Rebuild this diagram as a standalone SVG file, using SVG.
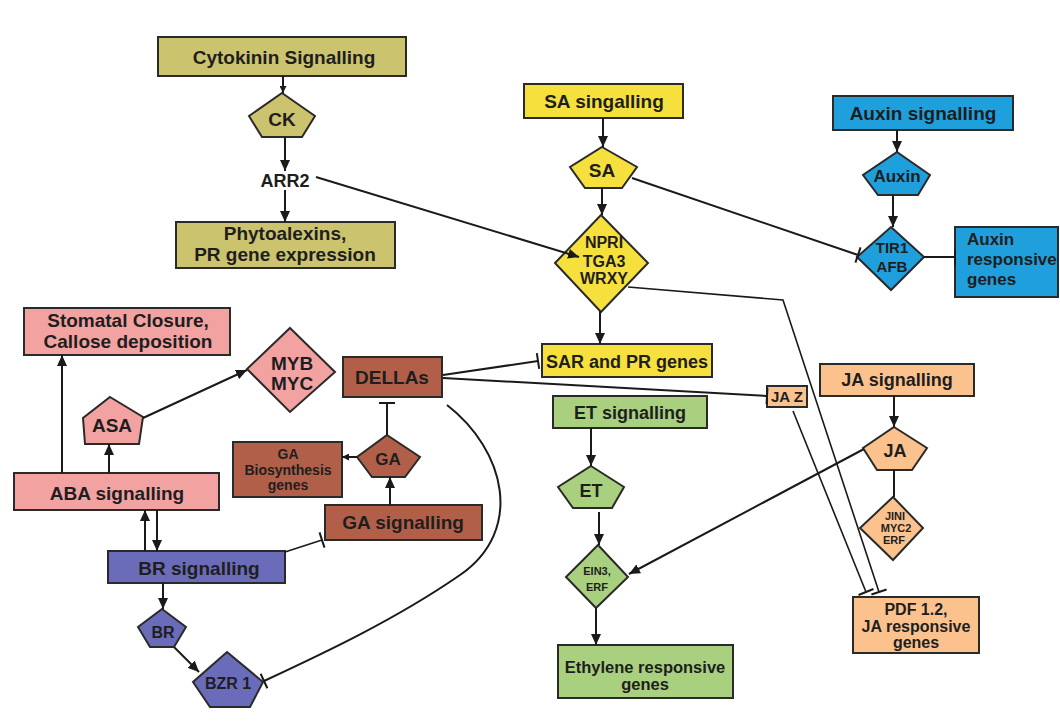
<svg xmlns="http://www.w3.org/2000/svg" width="1060" height="721" viewBox="0 0 1060 721">
<style>
.b{stroke:#2a2a2a;stroke-width:2}
.t{font-family:"Liberation Sans",Arial,sans-serif;font-weight:bold;fill:#1e1e1e;text-anchor:middle}
.c{stroke:#1a1a1a;stroke-width:2;fill:none}
.thin{stroke-width:1.6}
.ck{fill:#ccc36f}.sa{fill:#f6e03e}.aux{fill:#1f9fdb}.aba{fill:#f3a2a2}.ga{fill:#b25f4a}.br{fill:#6b6cb9}.et{fill:#a8d07f}.ja{fill:#fcc28e}
</style>
<defs>
<marker id="a" markerUnits="userSpaceOnUse" markerWidth="11" markerHeight="10" refX="11" refY="5" orient="auto"><path d="M0,0 L11,5 L0,10 z" fill="#1a1a1a"/></marker>
<marker id="s" markerUnits="userSpaceOnUse" markerWidth="7" markerHeight="7" refX="7" refY="3.5" orient="auto"><path d="M0,0 L7,3.5 L0,7 z" fill="#1a1a1a"/></marker>
<marker id="bar" markerUnits="userSpaceOnUse" markerWidth="4" markerHeight="18" refX="2" refY="9" orient="auto"><path d="M2,1 L2,17" stroke="#1a1a1a" stroke-width="2"/></marker>
</defs>
<rect width="1060" height="721" fill="#ffffff"/>
<g id="cytokinin-signalling"><rect class="b ck" x="158" y="37" width="248" height="39"/><text class="t" x="284" y="64" font-size="19">Cytokinin Signalling</text></g>
<g id="ck"><polygon class="b ck" points="282,93 315,116 302,137 262,137 249,116"/><text class="t" x="282" y="126" font-size="19">CK</text></g>
<g id="arr2"><text class="t" x="285" y="187" font-size="18">ARR2</text></g>
<g id="phytoalexins"><rect class="b ck" x="176" y="222" width="219" height="46"/><text class="t" x="285" y="240" font-size="19">Phytoalexins,</text><text class="t" x="285" y="261" font-size="19">PR gene expression</text></g>
<g id="sa-signalling"><rect class="b sa" x="524" y="84" width="159" height="34"/><text class="t" x="604" y="108" font-size="19">SA singalling</text></g>
<g id="sa"><polygon class="b sa" points="602,147 637,167 622,188 585,188 570,167"/><text class="t" x="602" y="177" font-size="19">SA</text></g>
<g id="npri"><polygon class="b sa" points="601,215 648,263 601,312 555,263"/><text class="t" x="604" y="248" font-size="16">NPRI</text><text class="t" x="604" y="267" font-size="16">TGA3</text><text class="t" x="604" y="284" font-size="16">WRXY</text></g>
<g id="sar-pr"><rect class="b sa" x="542" y="344" width="170" height="33"/><text class="t" x="627" y="368" font-size="18">SAR and PR genes</text></g>
<g id="auxin-signalling"><rect class="b aux" x="833" y="96" width="180" height="34"/><text class="t" x="923" y="120" font-size="19">Auxin signalling</text></g>
<g id="auxin"><polygon class="b aux" points="897,152 930,175 918,195 878,195 863,175"/><text class="t" x="897" y="182" font-size="17">Auxin</text></g>
<g id="tir1"><polygon class="b aux" points="891,227 924,257 891,290 857,257"/><text class="t" x="892" y="253" font-size="15">TIR1</text><text class="t" x="892" y="272" font-size="15">AFB</text></g>
<g id="auxin-responsive"><rect class="b aux" x="955" y="227" width="103" height="70"/><text class="t" x="967" y="245" font-size="17" style="text-anchor:start">Auxin</text><text class="t" x="967" y="265" font-size="17" style="text-anchor:start">responsive</text><text class="t" x="967" y="285" font-size="17" style="text-anchor:start">genes</text></g>
<g id="stomatal"><rect class="b aba" x="24" y="308" width="206" height="47"/><text class="t" x="128" y="327" font-size="19">Stomatal Closure,</text><text class="t" x="128" y="348" font-size="19">Callose deposition</text></g>
<g id="aba-signalling"><rect class="b aba" x="14" y="473" width="205" height="37"/><text class="t" x="117" y="500" font-size="19">ABA signalling</text></g>
<g id="asa"><polygon class="b aba" points="110,397 143,417 139,444 85,444 83,418"/><text class="t" x="112" y="432" font-size="19">ASA</text></g>
<g id="myb"><polygon class="b aba" points="290,328 335,372 290,412 247,369"/><text class="t" x="292" y="370" font-size="19">MYB</text><text class="t" x="292" y="390" font-size="19">MYC</text></g>
<g id="dellas"><rect class="b ga" x="343" y="357" width="99" height="40"/><text class="t" x="392" y="384" font-size="19">DELLAs</text></g>
<g id="ga-biosynthesis"><rect class="b ga" x="233" y="442" width="109" height="55"/><text class="t" x="288" y="459" font-size="14">GA</text><text class="t" x="288" y="475" font-size="14">Biosynthesis</text><text class="t" x="288" y="490" font-size="14">genes</text></g>
<g id="ga"><polygon class="b ga" points="387,435 420,457 405,477 372,477 357,457"/><text class="t" x="388" y="465" font-size="17">GA</text></g>
<g id="ga-signalling"><rect class="b ga" x="325" y="505" width="157" height="35"/><text class="t" x="403" y="529" font-size="19">GA signalling</text></g>
<g id="br-signalling"><rect class="b br" x="108" y="551" width="177" height="32"/><text class="t" x="199" y="575" font-size="19">BR signalling</text></g>
<g id="br"><polygon class="b br" points="162,609 186,627 174,647 150,647 138,627"/><text class="t" x="163" y="638" font-size="16">BR</text></g>
<g id="bzr1"><polygon class="b br" points="227,652 263,682 250,707 210,707 193,682"/><text class="t" x="228" y="689" font-size="16">BZR 1</text></g>
<g id="et-signalling"><rect class="b et" x="553" y="396" width="154" height="32"/><text class="t" x="630" y="419" font-size="18">ET signalling</text></g>
<g id="et"><polygon class="b et" points="591,466 624,487 612,508 573,508 558,487"/><text class="t" x="591" y="497" font-size="18">ET</text></g>
<g id="ein3"><polygon class="b et" points="598,545 628,577 596,608 566,577"/><text class="t" x="597" y="575" font-size="11">EIN3,</text><text class="t" x="597" y="591" font-size="11">ERF</text></g>
<g id="ethylene-responsive"><rect class="b et" x="558" y="645" width="175" height="53"/><text class="t" x="645" y="673" font-size="16.5">Ethylene responsive</text><text class="t" x="645" y="690" font-size="16.5">genes</text></g>
<g id="ja-signalling"><rect class="b ja" x="820" y="364" width="154" height="32"/><text class="t" x="897" y="386" font-size="18">JA signalling</text></g>
<g id="ja"><polygon class="b ja" points="894,427 927,448 912,470 877,470 863,448"/><text class="t" x="895" y="457" font-size="18">JA</text></g>
<g id="jini"><polygon class="b ja" points="893,497 923,528 893,560 860,528"/><text class="t" x="895" y="520" font-size="11">JINI</text><text class="t" x="896" y="532" font-size="11">MYC2</text><text class="t" x="894" y="544" font-size="11">ERF</text></g>
<g id="jaz"><rect class="b ja" x="767" y="386" width="40" height="21"/><text class="t" x="787" y="402" font-size="15">JA Z</text></g>
<g id="pdf"><rect class="b ja" x="853" y="597" width="126" height="56"/><text class="t" x="916" y="615" font-size="16">PDF 1.2,</text><text class="t" x="916" y="632" font-size="16">JA responsive</text><text class="t" x="916" y="648" font-size="16">genes</text></g>
<g id="connectors">
<line class="c" x1="283" y1="76" x2="283" y2="93" marker-end="url(#s)"/>
<line class="c" x1="285" y1="137" x2="285" y2="171" marker-end="url(#a)"/>
<line class="c" x1="285" y1="190" x2="285" y2="222" marker-end="url(#a)"/>
<line class="c" x1="316" y1="177" x2="579" y2="257" marker-end="url(#a)"/>
<line class="c" x1="603" y1="118" x2="603" y2="147" marker-end="url(#a)"/>
<line class="c" x1="602" y1="188" x2="602" y2="215" marker-end="url(#a)"/>
<line class="c" x1="600" y1="311" x2="600" y2="344" marker-end="url(#a)"/>
<line class="c" x1="632" y1="178" x2="858" y2="255" marker-end="url(#bar)"/>
<line class="c" x1="897" y1="130" x2="897" y2="152" marker-end="url(#a)"/>
<line class="c" x1="893" y1="195" x2="893" y2="227" marker-end="url(#a)"/>
<line class="c" x1="924" y1="257" x2="955" y2="257" marker-end="url(#bar)"/>
<polyline class="c thin" points="628,287 783,300 879,592" marker-end="url(#bar)"/>
<line class="c" x1="443" y1="375" x2="538" y2="361" marker-end="url(#bar)"/>
<line class="c" x1="443" y1="378" x2="767" y2="396" marker-end="url(#bar)"/>
<line class="c thin" x1="793" y1="411" x2="866" y2="592" marker-end="url(#bar)"/>
<line class="c" x1="894" y1="396" x2="894" y2="427" marker-end="url(#a)"/>
<line class="c" x1="894" y1="470" x2="894" y2="497"/>
<line class="c" x1="864" y1="449" x2="629" y2="574" marker-end="url(#a)"/>
<line class="c" x1="591" y1="428" x2="591" y2="466" marker-end="url(#a)"/>
<line class="c" x1="599" y1="512" x2="599" y2="545" marker-end="url(#a)"/>
<line class="c" x1="596" y1="608" x2="596" y2="645" marker-end="url(#a)"/>
<line class="c" x1="62" y1="473" x2="62" y2="355" marker-end="url(#a)"/>
<line class="c" x1="109" y1="473" x2="109" y2="444" marker-end="url(#a)"/>
<line class="c" x1="143" y1="418" x2="247" y2="370" marker-end="url(#a)"/>
<line class="c" x1="357" y1="457" x2="342" y2="457" marker-end="url(#s)"/>
<line class="c" x1="387" y1="435" x2="387" y2="403" marker-end="url(#bar)"/>
<line class="c" x1="390" y1="505" x2="390" y2="477" marker-end="url(#a)"/>
<line class="c" x1="145" y1="551" x2="145" y2="510" marker-end="url(#a)"/>
<line class="c" x1="157" y1="510" x2="157" y2="551" marker-end="url(#a)"/>
<line class="c thin" x1="285" y1="552" x2="322" y2="540" marker-end="url(#bar)"/>
<line class="c" x1="163" y1="583" x2="163" y2="609" marker-end="url(#a)"/>
<line class="c" x1="174" y1="647" x2="199" y2="672" marker-end="url(#a)"/>
<path class="c" d="M447,405 C505,450 525,530 460,575 S320,655 264,681" marker-end="url(#bar)"/>
</g>
</svg>
